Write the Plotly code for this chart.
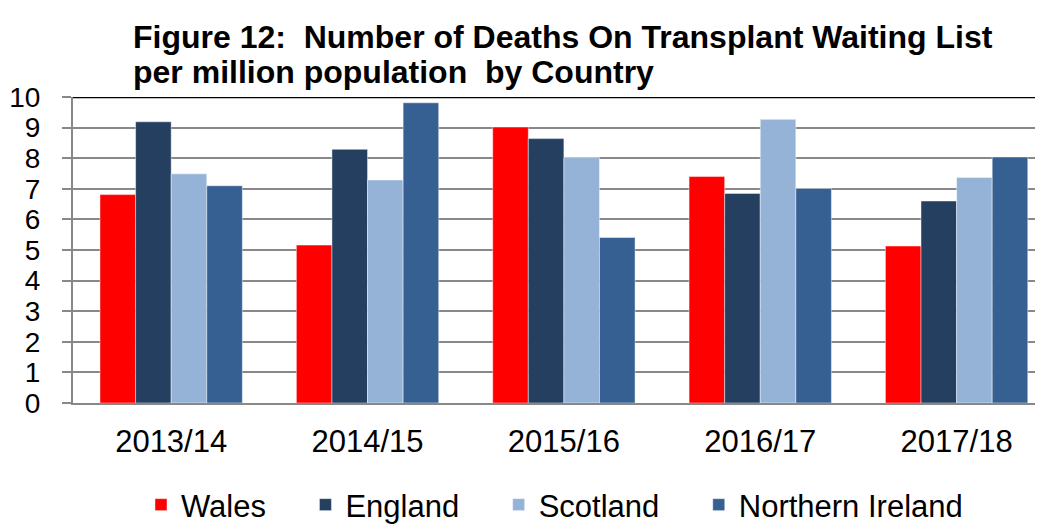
import plotly.graph_objects as go

years = ["2013/14", "2014/15", "2015/16", "2016/17", "2017/18"]
wales = [6.81, 5.16, 9.02, 7.40, 5.13]
england = [9.19, 8.29, 8.64, 6.85, 6.60]
scotland = [7.49, 7.29, 8.02, 9.27, 7.37]
northern_ireland = [7.10, 9.81, 5.41, 7.01, 8.04]
y_ticks = list(range(0, 11))

series = [
    ("Wales", wales, "#FF0000"),
    ("England", england, "#243F60"),
    ("Scotland", scotland, "#95B3D7"),
    ("Northern Ireland", northern_ireland, "#376092"),
]

FONT = "Liberation Sans, Arial, sans-serif"
PAD = "\u00a0" * 4
# the page body adds an 8px margin, so the figure is drawn 8px smaller
W, H = 1035, 517
LEFT, TOP, BOTTOM = 65, 89, 122
PLOT_W = W - LEFT
PLOT_H = H - TOP - BOTTOM

fig = go.Figure()
for name, values, color in series:
    fig.add_trace(
        go.Bar(
            name=name + PAD,
            x=years,
            y=values,
            marker=dict(color=color, line=dict(color="rgba(255,255,255,.45)", width=1)),
        )
    )

title_lines = [
    "Figure 12:  Number of Deaths On Transplant Waiting List",
    "per million population  by Country",
]
for i, line in enumerate(title_lines):
    fig.add_annotation(
        text=f"<b>{line}</b>",
        xref="paper",
        yref="paper",
        x=(123 - LEFT) / PLOT_W,
        y=(TOP + PLOT_H - (29 + 35 * i)) / PLOT_H,
        xanchor="left",
        yanchor="middle",
        showarrow=False,
        font=dict(family=FONT, size=32, color="black"),
    )

fig.update_layout(
    width=W,
    height=H,
    barmode="group",
    bargap=0.275,
    bargroupgap=0,
    plot_bgcolor="white",
    paper_bgcolor="white",
    margin=dict(l=LEFT, r=0, t=TOP, b=BOTTOM, autoexpand=False),
    font=dict(family=FONT, color="black"),
    legend=dict(
        orientation="h",
        x=133 / W,
        xanchor="left",
        xref="container",
        y=20 / H,
        yanchor="middle",
        yref="container",
        font=dict(family=FONT, size=31),
        traceorder="normal",
        itemwidth=30,
    ),
    xaxis=dict(
        range=[-0.5, 4.44],
        showline=True,
        linecolor="#888888",
        linewidth=2,
        ticks="",
        tickfont=dict(family=FONT, size=31),
        ticklabelstandoff=10,
    ),
    yaxis=dict(
        range=[0, 10],
        tickvals=y_ticks,
        showgrid=True,
        gridcolor="#888888",
        gridwidth=1.5,
        showline=True,
        linecolor="#888888",
        linewidth=2,
        ticks="outside",
        ticklen=9,
        tickcolor="#888888",
        tickwidth=1.5,
        tickfont=dict(family=FONT, size=28),
        ticklabelstandoff=16,
        zeroline=False,
    ),
    shapes=[
        dict(
            type="line",
            xref="paper",
            yref="y",
            x0=0,
            x1=1,
            y0=10,
            y1=10,
            line=dict(color="black", width=2.5),
            layer="above",
        )
    ],
)

fig.write_html("out.html")
